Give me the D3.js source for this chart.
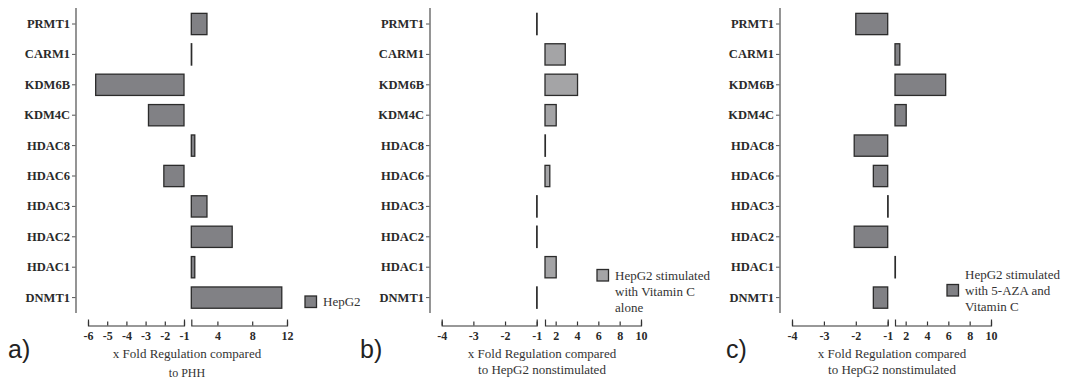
<!DOCTYPE html>
<html>
<head>
<meta charset="utf-8">
<script src="https://cdn.jsdelivr.net/npm/d3@7"></script>
<style>
  html, body { margin: 0; padding: 0; background: #fff; }
  svg { display: block; }
</style>
</head>
<body>
<svg id="chart" width="1066" height="379"></svg>
<script>
// ---------- DATA ----------
const categories = ["PRMT1","CARM1","KDM6B","KDM4C","HDAC8","HDAC6","HDAC3","HDAC2","HDAC1","DNMT1"];
const valuesA = [2.8, 1.0, -5.6, -2.85, 1.4, -2.05, 2.8, 5.7, 1.4, 11.4];
const valuesB = [-1, 2.9, 4.05, 2.05, 1, 1.45, -1, -1, 2.05, -1];
const valuesC = [-2.0, 1.45, 5.75, 2.05, -2.05, -1.45, -1, -2.05, 1, -1.45];

const negTicksA = [-6, -5, -4, -3, -2, -1];
const posTicksA = [4, 8, 12];
const negTicksBC = [-4, -3, -2, -1];
const posTicksBC = [2, 4, 6, 8, 10];

const legendA = ["HepG2"];
const legendB = ["HepG2 stimulated", "with Vitamin C", "alone"];
const legendC = ["HepG2 stimulated", "with 5-AZA and", "Vitamin C"];

const titleA = ["x Fold Regulation compared", "to PHH"];
const titleB = ["x Fold Regulation compared", "to HepG2 nonstimulated"];
const titleC = ["x Fold Regulation compared", "to HepG2 nonstimulated"];

// ---------- LAYOUT ----------
const serif = "'Liberation Serif', 'Times New Roman', serif";
const panels = [
  { letter: "a)", letterX: 8, values: valuesA, axisX: 76,
    negDomain: [-6, -1], negRange: [88, 184], posDomain: [1, 12], posRange: [191.3, 287],
    negTicks: negTicksA, posTicks: posTicksA, fill: "#818185",
    legend: legendA, legX: 305, legBoxY: 296, legTextY: [305.5],
    title: titleA, titleX: 187, titleY: [358, 377], titleSize: [13, 12] },
  { letter: "b)", letterX: 360, values: valuesB, axisX: 430,
    negDomain: [-4, -1], negRange: [441.7, 536.7], posDomain: [1, 10], posRange: [545, 641],
    negTicks: negTicksBC, posTicks: posTicksBC, fill: "#a4a4a6",
    legend: legendB, legX: 597, legBoxY: 269.5, legTextY: [280, 296, 311.5],
    title: titleB, titleX: 542, titleY: [358, 374], titleSize: [13, 13] },
  { letter: "c)", letterX: 726, values: valuesC, axisX: 780,
    negDomain: [-4, -1], negRange: [792, 887.7], posDomain: [1, 10], posRange: [895, 991],
    negTicks: negTicksBC, posTicks: posTicksBC, fill: "#818185",
    legend: legendC, legX: 947, legBoxY: 284.5, legTextY: [279, 295, 311],
    title: titleC, titleX: 892, titleY: [358, 374], titleSize: [13, 13] }
];

const svg = d3.select("#chart");
const axisY = 325.5;
const tickFmt = d => String(d);

const y = d3.scaleBand().domain(categories).range([8.8, 312.8]).paddingInner(0.3).paddingOuter(0.15);

panels.forEach(p => {
  const g = svg.append("g");
  const xNeg = d3.scaleLinear().domain(p.negDomain).range(p.negRange);
  const xPos = d3.scaleLinear().domain(p.posDomain).range(p.posRange);

  // y axis
  const yAxis = d3.axisLeft(y).tickSize(4).tickPadding(2).tickSizeOuter(0);
  const ya = g.append("g").attr("transform", `translate(${p.axisX},0)`).call(yAxis);
  ya.select(".domain").remove();
  ya.append("line").attr("x1", 0).attr("x2", 0).attr("y1", 8).attr("y2", 313)
    .attr("stroke", "#7a7a7a").attr("stroke-width", 1.6);
  ya.selectAll(".tick line").attr("stroke", "#555").attr("stroke-width", 1);
  ya.selectAll(".tick text").attr("font-family", serif).attr("font-size", 12.5)
    .attr("font-weight", "bold").attr("fill", "#2a2a2a");

  // bars
  const data = categories.map((c, i) => ({ c, v: p.values[i] }));
  g.selectAll("rect.bar").data(data).enter().append("rect")
    .attr("class", "bar")
    .attr("x", d => d.v < 0 ? xNeg(d.v) : xPos(1))
    .attr("width", d => Math.max(0.4, d.v < 0 ? xNeg(-1) - xNeg(d.v) : xPos(d.v) - xPos(1)))
    .attr("y", d => y(d.c))
    .attr("height", y.bandwidth())
    .attr("fill", p.fill)
    .attr("stroke", "#2b2b2b")
    .attr("stroke-width", 1.3);

  // x axes (broken)
  const styleAxis = sel => {
    sel.select(".domain").attr("stroke", "#333").attr("stroke-width", 1.2);
    sel.selectAll(".tick line").attr("stroke", "#333").attr("stroke-width", 1.2);
    sel.selectAll(".tick text").attr("font-family", serif).attr("font-size", 12)
      .attr("font-weight", "bold").attr("fill", "#2a2a2a");
  };
  const negAxis = d3.axisBottom(xNeg).tickValues(p.negTicks).tickFormat(tickFmt)
    .tickSizeInner(-4).tickSizeOuter(-6).tickPadding(6);
  g.append("g").attr("transform", `translate(0,${axisY})`).call(negAxis).call(styleAxis);
  const posAxis = d3.axisBottom(xPos).tickValues(p.posTicks).tickFormat(tickFmt)
    .tickSizeInner(-4).tickSizeOuter(-6).tickPadding(6);
  g.append("g").attr("transform", `translate(0,${axisY})`).call(posAxis).call(styleAxis);

  // axis title
  p.title.forEach((t, i) => {
    g.append("text").attr("x", p.titleX).attr("y", p.titleY[i]).attr("text-anchor", "middle")
      .attr("font-family", serif).attr("font-size", p.titleSize[i]).attr("fill", "#333").text(t);
  });

  // legend
  g.append("rect").attr("x", p.legX).attr("y", p.legBoxY).attr("width", 11.5).attr("height", 11.5)
    .attr("fill", p.fill).attr("stroke", "#2b2b2b").attr("stroke-width", 1.3);
  p.legend.forEach((t, i) => {
    g.append("text").attr("x", p.legX + 18).attr("y", p.legTextY[i])
      .attr("font-family", serif).attr("font-size", 13).attr("fill", "#333").text(t);
  });

  // panel letter
  g.append("text").attr("x", p.letterX).attr("y", 358)
    .attr("font-family", "'Liberation Sans', Arial, sans-serif").attr("font-size", 25)
    .attr("fill", "#222").text(p.letter);
});
</script>
</body>
</html>
